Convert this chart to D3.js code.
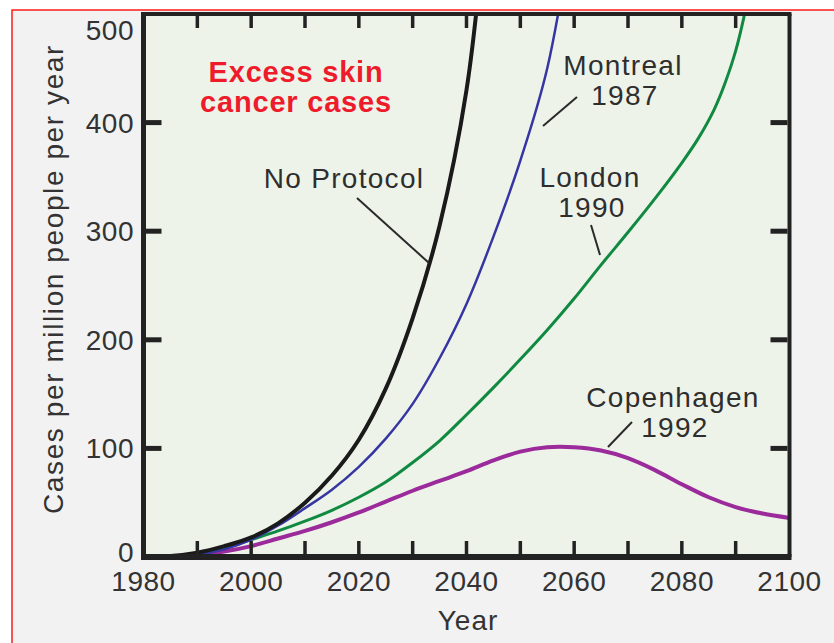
<!DOCTYPE html>
<html>
<head>
<meta charset="utf-8">
<script src="https://cdn.jsdelivr.net/npm/d3@7"></script>
<style>
  body { margin: 0; background: #fff; }
  text { font-family: "Liberation Sans", Arial, Helvetica, sans-serif; }
</style>
</head>
<body>
<div id="chart"></div>
<script>
// scenario curves (cases per million people per year)
var noProtocolYears = [1980,1985,1990,1995,2000,2005,2010,2015,2020,2025,2030,2035,2040,2043];
var noProtocolCases = [1,1,4,10,18,31,50,75,108,155,220,305,430,560];

var montrealYears = [1980,1985,1990,1995,2000,2005,2010,2015,2020,2025,2030,2035,2040,2045,2050,2055,2060];
var montrealCases = [0,0,2,7,16,29,45,62,83,109,141,183,233,295,365,450,590];

var londonYears = [1980,1985,1990,1995,2000,2005,2010,2015,2020,2025,2030,2035,2040,2045,2050,2055,2060,2065,2070,2075,2080,2083,2086,2088,2090,2092,2095];
var londonCases = [0,0,3,8,16,24,33,43,55,69,87,107,131,156,182,209,238,269,299,330,363,385,412,436,466,508,590];

var copenhagenYears = [1980,1985,1990,1995,2000,2005,2010,2015,2020,2025,2030,2035,2040,2045,2050,2055,2060,2065,2070,2075,2080,2085,2090,2095,2100];
var copenhagenCases = [0,0,2,5,10,17,24,32,41,51,61,70,79,89,97,101,101,98,91,80,67,55,46,40,36];

var xTickYears = [1990,2000,2010,2020,2030,2040,2050,2060,2070,2080,2090];
var xLabelYears = [1980,2000,2020,2040,2060,2080,2100];
var yTickValues = [100,200,300,400];
var yLabelValues = [0,100,200,300,400,500];

var width = 834, height = 643;
var plotL = 143.5, plotR = 789.5, plotT = 14, plotB = 557;

var svg = d3.select("#chart")
  .append("svg")
  .attr("width", width)
  .attr("height", height);

// outer frame
svg.append("rect")
  .attr("x", 12).attr("y", 10)
  .attr("width", 900).attr("height", 700)
  .attr("fill", "#f2f2f2")
  .attr("stroke", "#ff1a1a")
  .attr("stroke-width", 1.5);

var x = d3.scaleLinear().domain([1980, 2100]).range([plotL, plotR]);
var y = d3.scaleLinear().domain([0, 500]).range([plotB, plotT]);

svg.append("rect")
  .attr("x", plotL).attr("y", plotT)
  .attr("width", plotR - plotL).attr("height", plotB - plotT)
  .attr("fill", "#eef3ea");

svg.append("clipPath").attr("id", "plotclip")
  .append("rect")
  .attr("x", plotL).attr("y", plotT)
  .attr("width", plotR - plotL).attr("height", plotB - plotT);

var series = [
  {years: copenhagenYears, cases: copenhagenCases, color: "#9b2a9b", w: 4},
  {years: londonYears, cases: londonCases, color: "#108a40", w: 3},
  {years: montrealYears, cases: montrealCases, color: "#3636a2", w: 2.5},
  {years: noProtocolYears, cases: noProtocolCases, color: "#1a1a1a", w: 4}
];

var line = d3.line()
  .x(function(d) { return x(d[0]); })
  .y(function(d) { return y(d[1]); })
  .curve(d3.curveCatmullRom.alpha(0.5));

var g = svg.append("g").attr("clip-path", "url(#plotclip)");
series.forEach(function(s) {
  g.append("path")
    .datum(d3.zip(s.years, s.cases))
    .attr("d", line)
    .attr("fill", "none")
    .attr("stroke", s.color)
    .attr("stroke-width", s.w)
    .attr("stroke-linejoin", "round");
});

// frame lines
var ink = "#222";
svg.append("line").attr("x1", plotL - 2).attr("x2", plotR + 2).attr("y1", plotT).attr("y2", plotT)
  .attr("stroke", ink).attr("stroke-width", 4);
svg.append("line").attr("x1", plotR).attr("x2", plotR).attr("y1", plotT).attr("y2", plotB)
  .attr("stroke", ink).attr("stroke-width", 4);
svg.append("line").attr("x1", plotL).attr("x2", plotL).attr("y1", plotT - 2).attr("y2", plotB + 3)
  .attr("stroke", ink).attr("stroke-width", 5);
svg.append("line").attr("x1", plotL - 2.5).attr("x2", plotR + 2).attr("y1", plotB).attr("y2", plotB)
  .attr("stroke", ink).attr("stroke-width", 6);

// ticks, pointing inwards on all four sides
xTickYears.forEach(function(v) {
  svg.append("line").attr("x1", x(v)).attr("x2", x(v)).attr("y1", plotB - 3).attr("y2", plotB - 16)
    .attr("stroke", ink).attr("stroke-width", 3.5);
  svg.append("line").attr("x1", x(v)).attr("x2", x(v)).attr("y1", plotT + 2).attr("y2", plotT + 14)
    .attr("stroke", ink).attr("stroke-width", 3.5);
});
yTickValues.forEach(function(v) {
  svg.append("line").attr("x1", plotL + 2).attr("x2", plotL + 18).attr("y1", y(v)).attr("y2", y(v))
    .attr("stroke", ink).attr("stroke-width", 5);
  svg.append("line").attr("x1", plotR - 2).attr("x2", plotR - 19).attr("y1", y(v)).attr("y2", y(v))
    .attr("stroke", ink).attr("stroke-width", 5);
});

// tick labels
var labelColor = "#333";
svg.selectAll(".xlab").data(xLabelYears).enter()
  .append("text")
  .attr("x", function(d) { return x(d); })
  .attr("y", 591)
  .attr("text-anchor", "middle")
  .attr("font-size", 28)
  .attr("letter-spacing", 0.5)
  .attr("fill", labelColor)
  .text(function(d) { return d; });

svg.selectAll(".ylab").data(yLabelValues).enter()
  .append("text")
  .attr("x", 134)
  .attr("y", function(d) {
    if (d == 500) return 40;
    if (d == 0) return 562;
    return y(d) + 10;
  })
  .attr("text-anchor", "end")
  .attr("font-size", 28)
  .attr("letter-spacing", 0.5)
  .attr("fill", labelColor)
  .text(function(d) { return d; });

// axis titles
svg.append("text")
  .attr("transform", "translate(63,279)rotate(-90)")
  .attr("text-anchor", "middle")
  .attr("font-size", 28)
  .attr("letter-spacing", 1.6)
  .attr("fill", labelColor)
  .text("Cases per million people per year");

svg.append("text")
  .attr("x", 468).attr("y", 630)
  .attr("text-anchor", "middle")
  .attr("font-size", 28)
  .attr("letter-spacing", 1)
  .attr("fill", labelColor)
  .text("Year");

// red title
var title = svg.append("text")
  .attr("text-anchor", "middle")
  .attr("font-size", 29)
  .attr("font-weight", "bold")
  .attr("letter-spacing", 0.8)
  .attr("fill", "#ee1c2a");
title.append("tspan").attr("x", 296).attr("y", 82).text("Excess skin");
title.append("tspan").attr("x", 296).attr("y", 112).text("cancer cases");

// scenario labels with leader lines
var notes = [
  {lines: ["No Protocol"], x: 344, y: 188, from: [357, 198], to: [429, 263]},
  {lines: ["Montreal", "1987"], x: 623, y: 75, from: [577, 97], to: [543, 126]},
  {lines: ["London", "1990"], x: 590, y: 187, from: [591, 225], to: [600, 255]},
  {lines: ["Copenhagen", "1992"], x: 673, y: 407, from: [632, 422], to: [608, 447]}
];
notes.forEach(function(n) {
  var t = svg.append("text")
    .attr("text-anchor", "middle")
    .attr("font-size", 28)
    .attr("letter-spacing", 1.3)
    .attr("fill", "#2e2e2e");
  n.lines.forEach(function(s, i) {
    t.append("tspan").attr("x", n.x + (i ? 2 : 0)).attr("y", n.y + i * 30).text(s);
  });
  svg.append("line")
    .attr("x1", n.from[0]).attr("y1", n.from[1])
    .attr("x2", n.to[0]).attr("y2", n.to[1])
    .attr("stroke", "#2a2a2a").attr("stroke-width", 2);
});
</script>
</body>
</html>
